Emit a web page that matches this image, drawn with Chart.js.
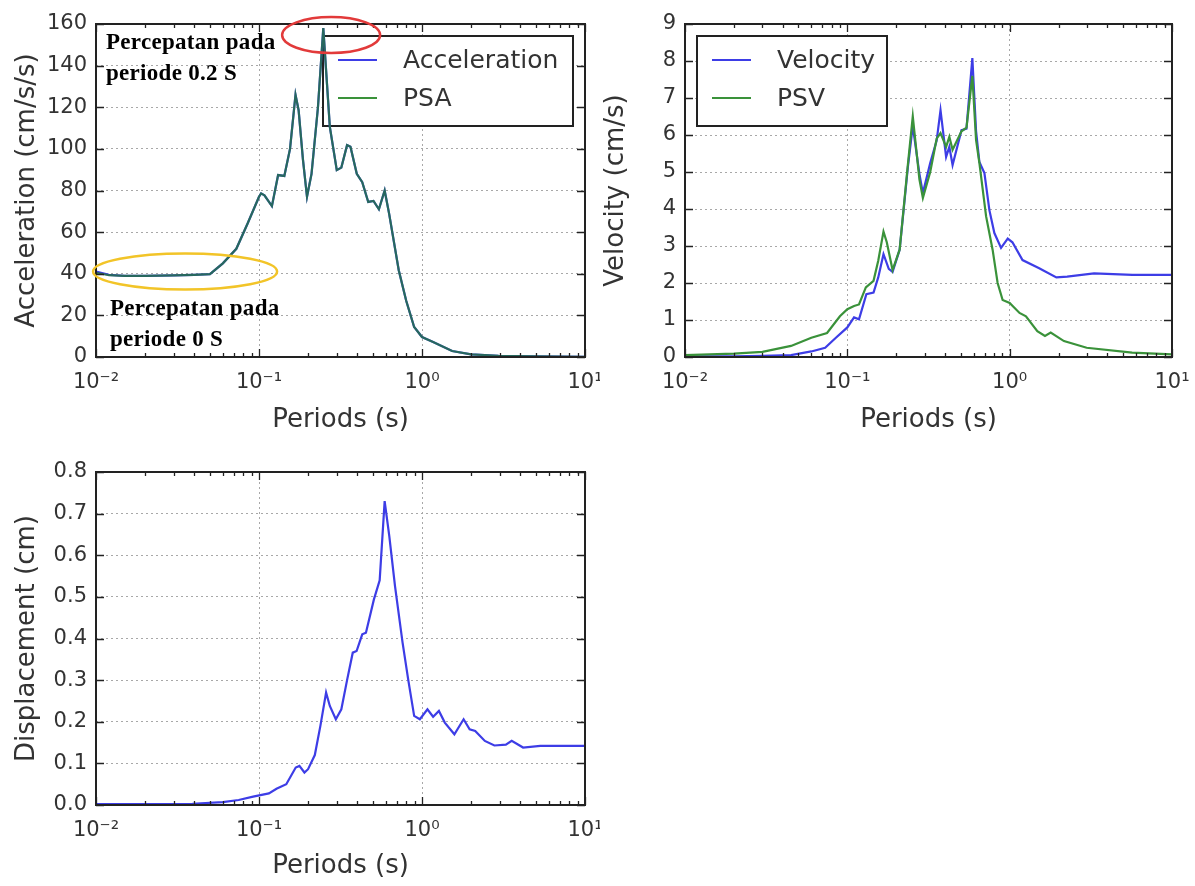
<!DOCTYPE html>
<html>
<head>
<meta charset="utf-8">
<script src="https://cdn.jsdelivr.net/npm/chart.js@4.4.1/dist/chart.umd.min.js"></script>
<style>
  body { margin: 0; background: #fff; width: 1195px; height: 886px; position: relative; overflow: hidden; }
  canvas { position: absolute; }
  .note { position: absolute; font: bold 23px "Liberation Serif", "Times New Roman", serif; letter-spacing: 0.3px; line-height: 31px; color: #000; white-space: nowrap; }
</style>
</head>
<body>
<canvas id="accChart" width="600" height="440" style="left:0;top:0"></canvas>
<canvas id="velChart" width="606" height="440" style="left:589px;top:0"></canvas>
<canvas id="dispChart" width="600" height="438" style="left:0;top:448px"></canvas>
<div class="note" style="left:106px;top:26px">Percepatan pada<br>periode 0.2 S</div>
<div class="note" style="left:110px;top:292px">Percepatan pada<br>periode 0 S</div>
<script>
// periods (s) and spectral values
var accPeriods = [0.01, 0.012, 0.015, 0.02, 0.03, 0.04, 0.05, 0.06, 0.0726, 0.085, 0.1, 0.103, 0.108, 0.12, 0.131, 0.143, 0.155, 0.1675, 0.175, 0.186, 0.197, 0.21, 0.23, 0.248, 0.272, 0.30, 0.32, 0.347, 0.364, 0.398, 0.43, 0.468, 0.504, 0.544, 0.59, 0.628, 0.72, 0.80, 0.895, 1.0, 1.17, 1.53, 2.0, 2.95, 5.0, 10];
var accValues = [41, 39.5, 39, 39, 39.2, 39.5, 39.8, 45, 52, 64, 77, 78.6, 77.7, 72.5, 87.4, 87, 100, 126, 118.6, 95, 77, 88, 120, 158, 110.6, 89.8, 91, 101.8, 101, 88, 84, 74.5, 75, 71, 80, 69, 41.7, 27, 14.4, 9.6, 7.2, 2.9, 1.3, 0.6, 0.3, 0.1];
var psaValues = [40.5, 39.3, 39, 39, 39.2, 39.5, 39.8, 45, 52, 64, 77, 78.6, 77.7, 72.5, 87.4, 87, 100, 126, 118.6, 95, 77, 88, 120, 158, 110.6, 89.8, 91, 101.8, 101, 88, 84, 74.5, 75, 71, 80, 69, 41.7, 27, 14.4, 9.6, 7.2, 2.9, 1.3, 0.6, 0.3, 0.1];

var velPeriods = [0.01, 0.02, 0.03, 0.045, 0.06, 0.073, 0.085, 0.1, 0.11, 0.118, 0.131, 0.145, 0.155, 0.167, 0.18, 0.19, 0.21, 0.236, 0.253, 0.278, 0.292, 0.324, 0.355, 0.375, 0.406, 0.425, 0.445, 0.505, 0.542, 0.589, 0.621, 0.651, 0.699, 0.75, 0.805, 0.885, 0.973, 1.04, 1.2, 1.52, 1.94, 2.26, 3.31, 5.7, 10];
var velValues = [0.02, 0.02, 0.03, 0.05, 0.15, 0.25, 0.52, 0.8, 1.07, 1.02, 1.7, 1.74, 2.15, 2.78, 2.38, 2.3, 2.9, 5.13, 6.25, 4.95, 4.43, 5.24, 5.85, 6.67, 5.41, 5.68, 5.19, 6.13, 6.17, 8.08, 6.1, 5.27, 4.97, 3.97, 3.35, 2.95, 3.2, 3.1, 2.62, 2.4, 2.15, 2.17, 2.26, 2.22, 2.22];
var psvPeriods = [0.01, 0.02, 0.03, 0.045, 0.06, 0.075, 0.09, 0.1, 0.11, 0.118, 0.13, 0.145, 0.155, 0.167, 0.175, 0.19, 0.21, 0.236, 0.253, 0.278, 0.292, 0.324, 0.355, 0.375, 0.406, 0.425, 0.445, 0.505, 0.542, 0.589, 0.621, 0.651, 0.716, 0.785, 0.843, 0.905, 1.0, 1.15, 1.26, 1.48, 1.65, 1.79, 2.16, 2.98, 5.68, 10];
var psvValues = [0.05, 0.09, 0.14, 0.3, 0.52, 0.65, 1.1, 1.29, 1.38, 1.42, 1.88, 2.06, 2.6, 3.39, 3.1, 2.35, 2.9, 5.2, 6.5, 4.8, 4.3, 5.0, 5.9, 6.05, 5.68, 5.95, 5.6, 6.1, 6.2, 7.6, 5.86, 5.24, 3.8, 2.9, 2.0, 1.54, 1.46, 1.19, 1.1, 0.7, 0.57, 0.66, 0.43, 0.25, 0.12, 0.07];

var dispPeriods = [0.01, 0.039, 0.06, 0.075, 0.092, 0.115, 0.128, 0.147, 0.168, 0.177, 0.19, 0.2, 0.22, 0.238, 0.258, 0.272, 0.296, 0.32, 0.347, 0.376, 0.397, 0.43, 0.453, 0.507, 0.55, 0.59, 0.63, 0.683, 0.76, 0.824, 0.895, 0.97, 1.08, 1.17, 1.27, 1.38, 1.58, 1.8, 1.96, 2.12, 2.43, 2.78, 3.27, 3.55, 4.17, 5.32, 10];
var dispValues = [0.002, 0.003, 0.007, 0.012, 0.02, 0.028, 0.039, 0.05, 0.09, 0.094, 0.078, 0.086, 0.12, 0.19, 0.27, 0.238, 0.206, 0.23, 0.30, 0.366, 0.37, 0.41, 0.414, 0.494, 0.54, 0.73, 0.646, 0.526, 0.39, 0.30, 0.214, 0.206, 0.23, 0.212, 0.226, 0.198, 0.17, 0.206, 0.182, 0.178, 0.154, 0.143, 0.145, 0.154, 0.138, 0.142, 0.142];

var xMajorTicks = [0.01, 0.1, 1, 10];
var xTickLabels = ['10\u207B\u00B2', '10\u207B\u00B9', '10\u2070', '10\u00B9'];

var BLUE = '#3d3de6';
var GREEN = '#3a923a';
var TXT = '#333';
var FONT = '"DejaVu Sans", sans-serif';

// minor positions of the log axis (2..9 in each decade)
var xMinorTicks = [];
[0.01, 0.1, 1].forEach(function (d) { for (var k = 2; k < 10; k++) xMinorTicks.push(d * k); });

var framePlugin = {
  id: 'frame',
  afterDatasetsDraw: function (chart) {
    var ctx = chart.ctx, a = chart.chartArea, xs = chart.scales.x, ys = chart.scales.y;
    ctx.save();
    ctx.strokeStyle = '#222';
    ctx.lineWidth = 1.3;
    ctx.beginPath();
    xMajorTicks.concat(xMinorTicks).forEach(function (v) {
      var px = Math.round(xs.getPixelForValue(v)) + 0.5;
      var len = xMajorTicks.indexOf(v) >= 0 ? 8 : 4;
      ctx.moveTo(px, a.bottom); ctx.lineTo(px, a.bottom - len);
      ctx.moveTo(px, a.top); ctx.lineTo(px, a.top + len);
    });
    ys.ticks.forEach(function (t) {
      var py = Math.round(ys.getPixelForValue(t.value)) + 0.5;
      ctx.moveTo(a.left, py); ctx.lineTo(a.left + 8, py);
      ctx.moveTo(a.right, py); ctx.lineTo(a.right - 8, py);
    });
    ctx.stroke();
    ctx.lineWidth = 2;
    ctx.strokeRect(a.left, a.top, a.right - a.left, a.bottom - a.top);
    ctx.restore();
  }
};

var legendPlugin = {
  id: 'boxLegend',
  beforeDatasetsDraw: function (chart, args, opts) {
    if (!opts || !opts.width) return;
    var ctx = chart.ctx, a = chart.chartArea;
    var left = opts.side === 'right' ? a.right - opts.inset - opts.width : a.left + opts.inset;
    var top = a.top + opts.inset;
    ctx.save();
    ctx.fillStyle = '#fff';
    ctx.fillRect(left, top, opts.width, opts.height);
    ctx.strokeStyle = '#222';
    ctx.lineWidth = 2;
    ctx.strokeRect(left, top, opts.width, opts.height);
    ctx.font = '25px ' + FONT;
    ctx.textBaseline = 'middle';
    chart.data.datasets.forEach(function (ds, i) {
      var y = top + 24 + i * 38;
      ctx.strokeStyle = ds.legendColor || ds.borderColor;
      ctx.lineWidth = 2;
      ctx.beginPath();
      ctx.moveTo(left + 15, y); ctx.lineTo(left + 54, y);
      ctx.stroke();
      ctx.fillStyle = TXT;
      ctx.fillText(ds.label, left + 80, y + 1);
    });
    ctx.restore();
  }
};

var ellipsePlugin = {
  id: 'ellipses',
  afterDraw: function (chart, args, opts) {
    if (!opts || !opts.items) return;
    var ctx = chart.ctx;
    ctx.save();
    opts.items.forEach(function (e) {
      var cx = chart.scales.x.getPixelForValue(e.x);
      var cy = chart.scales.y.getPixelForValue(e.y);
      ctx.strokeStyle = e.color;
      ctx.lineWidth = 2.5;
      ctx.beginPath();
      ctx.ellipse(cx, cy, e.rx, e.ry, 0, 0, Math.PI * 2);
      ctx.stroke();
    });
    ctx.restore();
  }
};

function spectrumChart(id, cfg) {
  return new Chart(document.getElementById(id), {
    type: 'scatter',
    data: {
      datasets: cfg.series.map(function (s, k) {
        return {
          label: s.label,
          data: s.periods.map(function (p, i) { return { x: p, y: s.values[i] }; }),
          showLine: true,
          borderColor: s.color,
          legendColor: s.legendColor,
          borderWidth: 2.2,
          pointRadius: 0,
          tension: 0,
          fill: false,
          order: 10 - k
        };
      })
    },
    options: {
      responsive: false,
      animation: false,
      layout: { padding: { top: 24, right: cfg.padRight, left: 0, bottom: 0 } },
      plugins: {
        legend: { display: false },
        tooltip: { enabled: false },
        boxLegend: cfg.legend || {},
        ellipses: cfg.ellipses || {}
      },
      scales: {
        x: {
          type: 'logarithmic',
          min: 0.01,
          max: 10,
          afterBuildTicks: function (s) { s.ticks = xMajorTicks.map(function (v) { return { value: v, major: true }; }); },
          afterFit: function (s) { s.height = cfg.xAxisHeight; s.paddingLeft = 0; s.paddingRight = 0; },
          ticks: {
            autoSkip: false,
            maxRotation: 0,
            padding: 13,
            color: TXT,
            font: { family: FONT, size: 21 },
            callback: function (v, i) { return xTickLabels[i]; }
          },
          grid: { color: '#a8a8a8', lineWidth: 1, drawTicks: false },
          border: { display: false, dash: [2, 3] },
          title: { display: true, text: 'Periods (s)', color: TXT, font: { family: FONT, size: 26 }, padding: { top: 0, bottom: 4 } }
        },
        y: {
          min: cfg.yMin,
          max: cfg.yMax,
          afterFit: function (s) { s.width = 96; s.paddingTop = 0; s.paddingBottom = 0; },
          ticks: {
            stepSize: cfg.yStep,
            padding: 9,
            color: TXT,
            font: { family: FONT, size: 21 },
            callback: function (v) { return cfg.yDecimals ? v.toFixed(cfg.yDecimals) : v; }
          },
          grid: { color: '#a8a8a8', lineWidth: 1, drawTicks: false },
          border: { display: false, dash: [2, 3] },
          title: { display: true, text: cfg.yTitle, color: TXT, font: { family: FONT, size: 26 }, padding: { top: 12, bottom: 0 } }
        }
      }
    },
    plugins: [legendPlugin, framePlugin, ellipsePlugin]
  });
}

spectrumChart('accChart', {
  series: [
    { label: 'Acceleration', periods: accPeriods, values: accValues, color: BLUE },
    { label: 'PSA', periods: accPeriods, values: psaValues, color: 'rgba(34,115,60,0.8)', legendColor: GREEN }
  ],
  yMin: 0, yMax: 160, yStep: 20, yTitle: 'Acceleration (cm/s/s)',
  padRight: 15, xAxisHeight: 83,
  legend: { side: 'right', inset: 12, width: 250, height: 90 },
  ellipses: { items: [
    { x: 0.277, y: 154.7, rx: 49, ry: 18, color: '#e23a3a' },
    { x: 0.0352, y: 41.1, rx: 92, ry: 18, color: '#f2c428' }
  ] }
});

spectrumChart('velChart', {
  series: [
    { label: 'Velocity', periods: velPeriods, values: velValues, color: BLUE },
    { label: 'PSV', periods: psvPeriods, values: psvValues, color: GREEN }
  ],
  yMin: 0, yMax: 9, yStep: 1, yTitle: 'Velocity (cm/s)',
  padRight: 23, xAxisHeight: 83,
  legend: { side: 'left', inset: 12, width: 190, height: 90 }
});

spectrumChart('dispChart', {
  series: [
    { label: 'Displacement', periods: dispPeriods, values: dispValues, color: BLUE }
  ],
  yMin: 0, yMax: 0.8, yStep: 0.1, yDecimals: 1, yTitle: 'Displacement (cm)',
  padRight: 15, xAxisHeight: 81
});
</script>
</body>
</html>
